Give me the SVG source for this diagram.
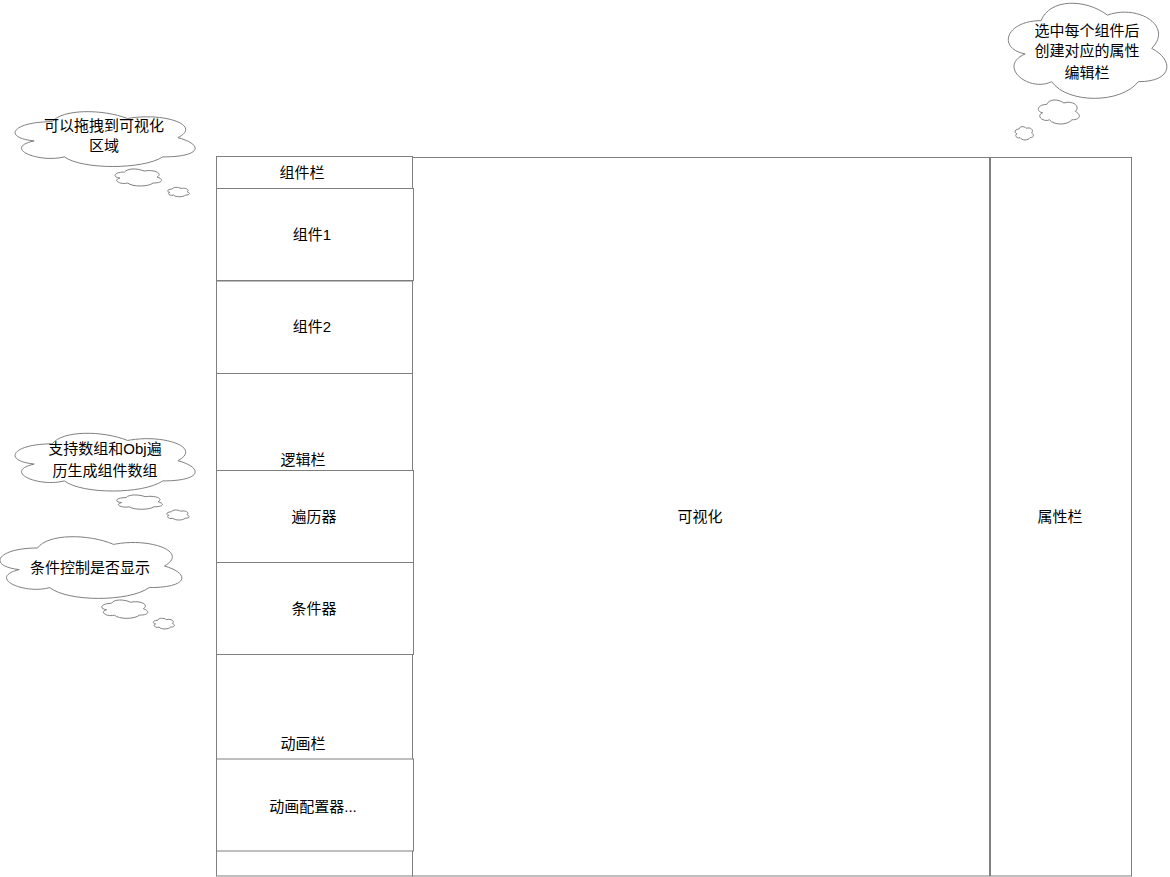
<svg xmlns="http://www.w3.org/2000/svg" width="1170" height="877" viewBox="0 0 1170 877">
<style>
.box{fill:#ffffff;stroke:#7f7f7f;stroke-width:1}
.cloud{fill:#ffffff;stroke:#808080;stroke-width:1}
.cp{vector-effect:non-scaling-stroke}
.t{font-family:"Liberation Sans","Noto Sans CJK SC",sans-serif;font-size:15px;fill:#000000;text-anchor:middle;dominant-baseline:central}
</style>
<defs>
<path id="cl" class="cp" vector-effect="non-scaling-stroke" d="M0.25,0.25 C0.05,0.25 0,0.5 0.16,0.55 C0,0.66 0.18,0.9 0.31,0.8 C0.4,1 0.7,1 0.8,0.8 C1,0.8 1,0.6 0.875,0.5 C1,0.3 0.8,0.1 0.625,0.2 C0.5,0.05 0.3,0.05 0.25,0.25 Z"/>
</defs>
<rect width="1170" height="877" fill="#ffffff"/>
<g id="visual">
<rect class="box" x="412.5" y="157.5" width="577" height="718.5"/>
<text class="t" x="700" y="516">可视化</text>
</g>
<g id="props">
<rect class="box" x="990.5" y="157.5" width="141" height="718.5"/>
<text class="t" x="1060" y="516">属性栏</text>
</g>
<g id="leftcol">
<rect class="box" x="216.5" y="156.5" width="196" height="719.5"/>
</g>
<g id="compbar">
<rect class="box" x="216.5" y="156.5" width="196" height="32"/>
<text class="t" x="302" y="172">组件栏</text>
</g>
<g id="comp1">
<rect class="box" x="216.5" y="188.5" width="197" height="92"/>
<text class="t" x="312" y="234">组件1</text>
</g>
<g id="comp2">
<rect class="box" x="216.5" y="281" width="196" height="92.5"/>
<text class="t" x="312" y="326">组件2</text>
</g>
<g id="logicbar">
<text class="t" x="303" y="459">逻辑栏</text>
</g>
<g id="iter">
<rect class="box" x="216.5" y="470.5" width="197" height="92"/>
<text class="t" x="314" y="516">遍历器</text>
</g>
<g id="cond">
<rect class="box" x="216.5" y="562.5" width="197" height="92"/>
<text class="t" x="314" y="608">条件器</text>
</g>
<g id="animbar">
<line x1="216.5" y1="654.5" x2="412.5" y2="654.5" stroke="#7f7f7f"/>
<text class="t" x="303" y="743">动画栏</text>
</g>
<g id="animcfg">
<rect class="box" x="216.5" y="759" width="197" height="92"/>
<text class="t" x="313" y="806">动画配置器...</text>
</g>
<g id="cloud1">
<use href="#cl" class="cloud" transform="translate(2,105.7) scale(201,64)"/>
<text class="t" x="104" y="125">可以拖拽到可视化</text>
<text class="t" x="104" y="145">区域</text>
<use href="#cl" class="cloud" transform="translate(111.6,167.1) scale(52,19.9)"/>
<use href="#cl" class="cloud" transform="translate(166.1,186.3) scale(24.1,11)"/>
</g>
<g id="cloud2">
<use href="#cl" class="cloud" transform="translate(996.8,-7.1) scale(177,111)"/>
<text class="t" x="1087" y="30">选中每个组件后</text>
<text class="t" x="1087" y="50">创建对应的属性</text>
<text class="t" x="1087" y="72">编辑栏</text>
<use href="#cl" class="cloud" transform="translate(1035.3,97.4) scale(45.8,28)"/>
<use href="#cl" class="cloud" transform="translate(1013.7,125.2) scale(20.5,15.5)"/>
</g>
<g id="cloud3">
<use href="#cl" class="cloud" transform="translate(2,427) scale(201,67.4)"/>
<text class="t" x="105" y="448">支持数组和Obj遍</text>
<text class="t" x="105" y="470">历生成组件数组</text>
<use href="#cl" class="cloud" transform="translate(113.4,493.4) scale(51,16.7)"/>
<use href="#cl" class="cloud" transform="translate(165.1,508.9) scale(25,11.7)"/>
</g>
<g id="cloud4">
<use href="#cl" class="cloud" transform="translate(-13.2,530) scale(203,72)"/>
<text class="t" x="90" y="567">条件控制是否显示</text>
<use href="#cl" class="cloud" transform="translate(98.4,598) scale(51.4,21.4)"/>
<use href="#cl" class="cloud" transform="translate(151.8,617.1) scale(23.5,12.5)"/>
</g>
<g id="connectors"></g>
</svg>
